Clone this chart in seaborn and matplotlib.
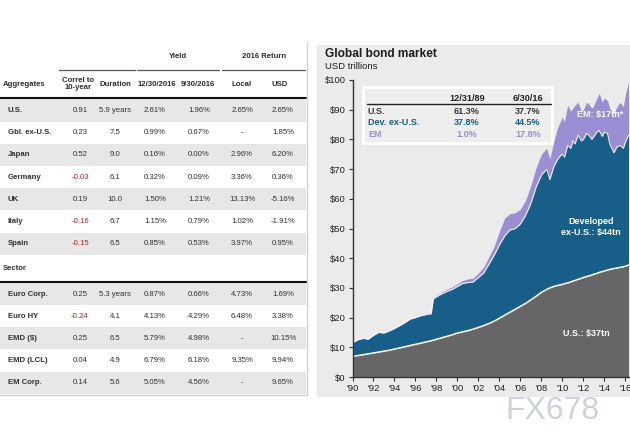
import numpy as np
import pandas as pd
import matplotlib
matplotlib.use("Agg")
import matplotlib.pyplot as plt
from matplotlib.patches import Rectangle
import seaborn as sns

sns.set_style("white")
plt.rcParams['font.family'] = ['Liberation Sans', 'DejaVu Sans']

# ---------------- table data ----------------
col_headers = ["Correl to\n10-year", "Duration", "12/30/2016", "9/30/2016", "Local", "USD"]
group_headers = ["Yield", "2016 Return"]

agg_labels = ["U.S.", "Gbl. ex-U.S.", "Japan", "Germany", "UK", "Italy", "Spain"]
agg_correl = ["0.91", "0.23", "0.52", "-0.03", "0.19", "-0.16", "-0.15"]
agg_duration = ["5.9 years", "7.5", "9.0", "6.1", "10.0", "6.7", "6.5"]
agg_yield_dec = ["2.61%", "0.99%", "0.16%", "0.32%", "1.50%", "1.15%", "0.85%"]
agg_yield_sep = ["1.96%", "0.67%", "0.00%", "0.09%", "1.21%", "0.79%", "0.53%"]
agg_local = ["2.65%", "-", "2.96%", "3.36%", "13.13%", "1.02%", "3.97%"]
agg_usd = ["2.65%", "1.85%", "6.20%", "0.36%", "-5.16%", "-1.91%", "0.95%"]

sec_labels = ["Euro Corp.", "Euro HY", "EMD ($)", "EMD (LCL)", "EM Corp."]
sec_correl = ["0.25", "-0.24", "0.25", "0.04", "0.14"]
sec_duration = ["5.3 years", "4.1", "6.5", "4.9", "5.6"]
sec_yield_dec = ["0.87%", "4.13%", "5.79%", "6.79%", "5.05%"]
sec_yield_sep = ["0.66%", "4.29%", "4.98%", "6.18%", "4.56%"]
sec_local = ["4.73%", "6.48%", "-", "9.35%", "-"]
sec_usd = ["1.69%", "3.38%", "10.15%", "9.94%", "9.65%"]

# ---------------- chart data (USD trillions) ----------------
years = [1990.0, 1990.5, 1991.0, 1991.5, 1992.0, 1992.5, 1993.0, 1993.5, 1994.0, 1994.5,
         1995.0, 1995.5, 1996.0, 1996.5, 1997.0, 1997.5, 1997.7, 1998.0, 1998.5, 1999.0,
         1999.5, 2000.0, 2000.5, 2001.0, 2001.5, 2002.0, 2002.5, 2003.0, 2003.5, 2004.0,
         2004.5, 2005.0, 2005.5, 2006.0, 2006.5, 2007.0, 2007.5, 2008.0, 2008.5, 2008.8,
         2009.2, 2009.5, 2009.8, 2010.0, 2010.2, 2010.5, 2010.8, 2011.0, 2011.2, 2011.5,
         2011.8, 2012.0, 2012.3, 2012.5, 2012.8, 2013.0, 2013.3, 2013.5, 2013.8, 2014.0,
         2014.3, 2014.5, 2014.9, 2015.2, 2015.5, 2015.8, 2016.0, 2016.3]
us = [7.0, 7.2, 7.5, 7.8, 8.1, 8.4, 8.7, 9.0, 9.4, 9.8,
      10.2, 10.6, 11.0, 11.4, 11.8, 12.2, 12.4, 12.7, 13.2, 13.7,
      14.2, 14.8, 15.2, 15.6, 16.1, 16.7, 17.3, 18.0, 18.8, 19.8,
      20.8, 21.8, 22.8, 23.8, 24.8, 26.0, 27.2, 28.5, 29.5, 30.0,
      30.5, 30.8, 31.0, 31.2, 31.4, 31.7, 32.0, 32.3, 32.5, 32.9,
      33.2, 33.5, 33.8, 34.0, 34.3, 34.6, 34.9, 35.2, 35.5, 35.7,
      36.0, 36.2, 36.5, 36.7, 36.9, 37.1, 37.3, 37.7]
dev = [4.5, 5.3, 5.5, 4.9, 5.9, 6.6, 6.1, 6.5, 6.9, 7.5,
       8.1, 8.9, 9.0, 9.2, 9.2, 9.1, 13.9, 14.3, 14.8, 15.1,
       15.3, 15.7, 16.3, 16.2, 15.9, 16.8, 17.7, 20.0, 22.2, 24.7,
       26.7, 27.7, 27.2, 27.7, 29.7, 32.5, 36.8, 39.5, 40.5, 36.5,
       40.5, 42.2, 43.5, 43.8, 42.6, 46.3, 45.0, 47.2, 46.0, 48.6,
       46.3, 46.5, 48.2, 47.5, 45.7, 46.4, 47.6, 47.8, 45.5, 46.8,
       46.0, 42.3, 39.0, 40.8, 41.1, 39.9, 41.7, 43.8]
em = [0.1, 0.1, 0.1, 0.1, 0.1, 0.1, 0.1, 0.1, 0.2, 0.2,
      0.2, 0.2, 0.2, 0.3, 0.3, 0.3, 0.4, 0.5, 0.6, 0.7,
      0.8, 0.9, 1.0, 1.2, 1.3, 1.5, 2.0, 2.5, 3.0, 4.5,
      6.0, 5.5, 5.3, 5.0, 5.0, 6.0, 6.5, 7.0, 7.0, 7.0,
      8.5, 10.5, 11.5, 12.5, 12.0, 13.5, 12.5, 11.0, 13.0, 11.0,
      10.0, 10.0, 10.5, 10.5, 10.5, 10.5, 11.5, 12.5, 11.5, 11.5,
      11.0, 12.0, 13.0, 13.5, 14.5, 14.0, 16.0, 17.8]

y_ticks = [0, 10, 20, 30, 40, 50, 60, 70, 80, 90, 100]
y_ticklabels = ["$0", "$10", "$20", "$30", "$40", "$50", "$60", "$70", "$80", "$90", "$100"]
x_ticks = [1990, 1992, 1994, 1996, 1998, 2000, 2002, 2004, 2006, 2008, 2010, 2012, 2014, 2016]
x_ticklabels = ["'90", "'92", "'94", "'96", "'98", "'00", "'02", "'04", "'06", "'08", "'10", "'12", "'14", "'16"]

inset_cols = ["12/31/89", "6/30/16"]
inset_rows = ["U.S.", "Dev. ex-U.S.", "EM"]
inset_first = ["61.3%", "37.8%", "1.0%"]
inset_last = ["37.7%", "44.5%", "17.8%"]

C_US = "#666666"
C_DEV = "#175f88"
C_EM = "#9a8ed4"

# ---------------- figure ----------------
fig = plt.figure(figsize=(6.3, 4.46), dpi=100)
bg = fig.add_axes([0, 0, 1, 1])
bg.set_xlim(0, 630)
bg.set_ylim(446, 0)
bg.axis("off")
bg.set_zorder(0)

# right panel background
bg.add_patch(Rectangle((317, 45), 313, 352, facecolor="#ebebeb", edgecolor="none"))

# ---- table ----
TXT = "#303030"
RED = "#b3262a"
fs = 5.6
col_x = [80, 115, 155, 199, 242, 283]

bg.plot([59, 135], [70, 70], color="#555555", lw=0.9)
bg.plot([137, 219], [70, 70], color="#555555", lw=0.9)
bg.plot([222, 305], [70, 70], color="#555555", lw=0.9)
bg.text(178, 57, group_headers[0], ha="center", va="center", fontsize=fs, fontweight="bold", color=TXT)
bg.text(264, 57, group_headers[1], ha="center", va="center", fontsize=fs, fontweight="bold", color=TXT)
bg.text(3, 84, "Aggregates", ha="left", va="center", fontsize=fs, fontweight="bold", color=TXT)
hdr_x = [78, 115, 157, 198, 242, 280]
for x, h in zip(hdr_x, col_headers):
    bg.text(x, 84, h, ha="center", va="center", fontsize=fs, fontweight="bold", color=TXT,
            linespacing=1.1)
bg.plot([0, 306], [97.5, 97.5], color="#111111", lw=1.5)

bg.plot([307, 307], [42, 395], color="#d2d2d2", lw=1.0)
bg.plot([0, 307], [395, 395], color="#d2d2d2", lw=1.0)


def draw_rows(labels, cols, y0, shade_even=True):
    for i, lab in enumerate(labels):
        yc = y0 + i * 22.2
        shaded = (i % 2 == 0) == shade_even
        if shaded:
            bg.add_patch(Rectangle((0, yc - 11.1), 306, 22.2, facecolor="#e7e7e7", edgecolor="none"))
        bg.text(8, yc, lab, ha="left", va="center", fontsize=fs, fontweight="bold", color=TXT)
        for j, (x, col) in enumerate(zip(col_x, cols)):
            v = col[i]
            color = RED if (j == 0 and v.startswith("-")) else TXT
            bg.text(x, yc, v, ha="center", va="center", fontsize=fs, color=color)


draw_rows(agg_labels, [agg_correl, agg_duration, agg_yield_dec, agg_yield_sep, agg_local, agg_usd], 110.5)
bg.text(3, 268, "Sector", ha="left", va="center", fontsize=fs, fontweight="bold", color=TXT)
bg.plot([0, 306], [282, 282], color="#111111", lw=1.5)
draw_rows(sec_labels, [sec_correl, sec_duration, sec_yield_dec, sec_yield_sep, sec_local, sec_usd], 294)

# title
bg.text(325, 54, "Global bond market", ha="left", va="center", fontsize=8.6, fontweight="bold", color="#1e1e1e")
bg.text(325, 66.5, "USD trillions", ha="left", va="center", fontsize=6.8, color="#1e1e1e")

# watermark
bg.text(552, 411, "FX678", ha="center", va="center", fontsize=23, color="#cdd3dc")

# ---- chart ----
ax = fig.add_axes([352.5 / 630, (446 - 377) / 446, 276 / 630, 297 / 446])
ax.set_zorder(1)
ax.patch.set_alpha(0)
ax.stackplot(years, us, dev, em, colors=[C_US, C_DEV, C_EM], linewidth=0)
us_a = np.array(us)
b_top = us_a + np.array(dev)
df = pd.DataFrame({"year": years, "us": us_a, "btop": b_top})
sns.lineplot(data=df, x="year", y="us", ax=ax, color="white", lw=1.1)
sns.lineplot(data=df, x="year", y="btop", ax=ax, color="white", lw=0.6)
ax.set_xlim(1990, 2016.3)
ax.set_ylim(0, 100)
ax.set_xticks(x_ticks)
ax.set_xticklabels(x_ticklabels)
ax.set_yticks(y_ticks)
ax.set_yticklabels(y_ticklabels)
ax.set_xlabel("")
ax.set_ylabel("")
for s in ["top", "right"]:
    ax.spines[s].set_visible(False)
for s in ["left", "bottom"]:
    ax.spines[s].set_color("#333333")
    ax.spines[s].set_linewidth(1.0)
ax.tick_params(axis="both", which="both", direction="out", length=3, width=0.8,
               color="#333333", labelsize=6.8, labelcolor="#222222", pad=2)
ax.tick_params(axis="y", left=True)
ax.tick_params(axis="x", bottom=True)

ax.text(2013.6, 88.5, "EM: $17tn*", ha="center", va="center", fontsize=6.5, fontweight="bold", color="white")
ax.text(2012.7, 50.5, "Developed\nex-U.S.: $44tn", ha="center", va="center", fontsize=6.5,
        fontweight="bold", color="white", linespacing=1.3)
ax.text(2012.3, 14.8, "U.S.: $37tn", ha="center", va="center", fontsize=6.5, fontweight="bold", color="white")

# ---- inset table (overlay) ----
top = fig.add_axes([0, 0, 1, 1])
top.set_xlim(0, 630)
top.set_ylim(446, 0)
top.axis("off")
top.set_zorder(2)
top.add_patch(Rectangle((363, 87), 189, 56, facecolor="#eeeeee", edgecolor="white", lw=2))
top.text(467, 98.5, inset_cols[0], ha="center", va="center", fontsize=6.6, fontweight="bold", color="#222222")
top.text(528, 98.5, inset_cols[1], ha="center", va="center", fontsize=6.6, fontweight="bold", color="#222222")
top.plot([367, 551], [104, 104], color="#222222", lw=1.0)
row_colors = ["#3a3a3a", C_DEV, C_EM]
for i, (lab, a, b) in enumerate(zip(inset_rows, inset_first, inset_last)):
    yc = 111 + i * 11.7
    top.text(368, yc, lab, ha="left", va="center", fontsize=6.5, fontweight="bold", color=row_colors[i])
    top.text(467, yc, a, ha="center", va="center", fontsize=6.5, fontweight="bold", color=row_colors[i])
    top.text(528, yc, b, ha="center", va="center", fontsize=6.5, fontweight="bold", color=row_colors[i])

fig.savefig("out.png", dpi=100)
